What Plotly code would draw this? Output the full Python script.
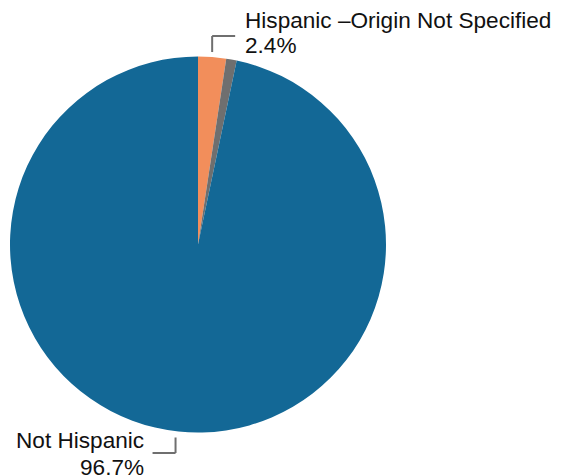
import math
import plotly.graph_objects as go

labels = ["Hispanic \u2013Origin Not Specified", "Hispanic", "Not Hispanic"]
values = [2.4, 0.9, 96.7]
colors = ["#F28E5B", "#6F6F6F", "#136896"]

W, H = 571, 476
cx, cy, r = 198, 244.5, 188  # pixel geometry of pie

fig = go.Figure(go.Pie(
    labels=labels, values=values, sort=False, direction="clockwise", rotation=0,
    marker=dict(colors=colors, line=dict(width=0)),
    textinfo="none", hoverinfo="label+percent", showlegend=False,
    domain=dict(x=[(cx - r) / W, (cx + r) / W], y=[1 - (cy + r) / H, 1 - (cy - r) / H]),
))

total = sum(values)

def mid_angle(i):
    start = sum(values[:i]) / total * 2 * math.pi
    return start + values[i] / total * math.pi

def px(x):
    return x / W

def py(y):
    return 1 - y / H

shapes = []
annotations = []
font = dict(family="Liberation Sans, Arial, sans-serif", size=22.6, color="#111111")
line = dict(color="#6F6F6F", width=2)

def text(x, y, s, anchor):
    annotations.append(dict(xref="paper", yref="paper", x=px(x), y=py(y), xanchor=anchor, yanchor="middle",
                            text=s, showarrow=False, font=font))

# Label for first slice (top)
a = mid_angle(0)
ex = cx + r * math.sin(a)
ey = cy - r * math.cos(a)
vx = ex
shapes.append(dict(type="line", xref="paper", yref="paper", x0=px(vx), y0=py(ey - 5), x1=px(vx), y1=py(36), line=line))
shapes.append(dict(type="line", xref="paper", yref="paper", x0=px(vx), y0=py(36), x1=px(vx + 23), y1=py(36), line=line))
text(vx + 31, 21, labels[0], "left")
text(vx + 31, 46, f"{values[0]}%", "left")

# Label for Not Hispanic (bottom)
a = mid_angle(2)
ex = cx + r * math.sin(a)
ey = cy - r * math.cos(a)
vx = ex - 3
shapes.append(dict(type="line", xref="paper", yref="paper", x0=px(vx), y0=py(ey + 6), x1=px(vx), y1=py(453), line=line))
shapes.append(dict(type="line", xref="paper", yref="paper", x0=px(vx), y0=py(453), x1=px(vx - 23), y1=py(453), line=line))
text(vx - 30, 440, labels[2], "right")
text(vx - 30, 467, f"{values[2]}%", "right")

fig.update_layout(
    width=W, height=H, margin=dict(l=0, r=0, t=0, b=0),
    paper_bgcolor="white", plot_bgcolor="white",
    shapes=shapes, annotations=annotations,
)

fig.write_html("out.html", config={"displayModeBar": False},
               post_script="document.body.style.margin='0';")
